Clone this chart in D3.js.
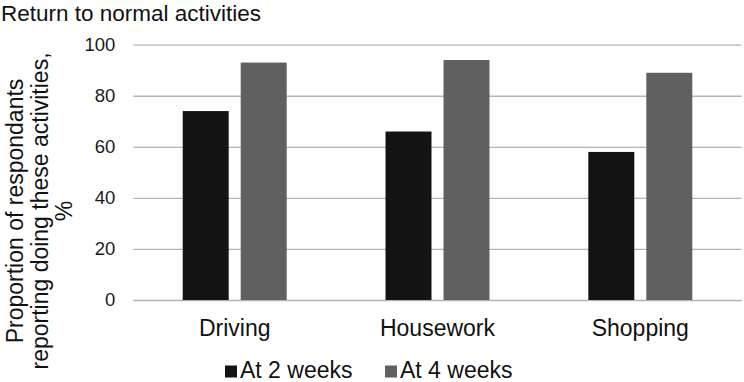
<!DOCTYPE html>
<html lang="en">
<head>
    <meta charset="UTF-8">
    <title>Return to normal activities</title>
    <script src="https://d3js.org/d3.v7.min.js"></script>
    <style>
        body {
            margin: 0;
            background-color: #fff;
        }
        svg {
            display: block;
            font-family: "Liberation Sans", Arial, sans-serif;
        }
    </style>
</head>
<body>
    <svg id="chart" width="744" height="382"></svg>
    <script>
        // Data
        const categories = ["Driving", "Housework", "Shopping"];
        const seriesNames = ["At 2 weeks", "At 4 weeks"];
        const week2 = [74, 66, 58];
        const week4 = [93, 94, 89];
        const yTicks = [0, 20, 40, 60, 80, 100];

        const colors = ["#131313", "#606060"];
        const seriesValues = [week2, week4];

        const svg = d3.select("#chart");
        const margin = { top: 44.7, right: 2.3, bottom: 82, left: 133.3 };
        const width = 744 - margin.left - margin.right;
        const height = 382 - margin.top - margin.bottom;

        const g = svg.append("g")
            .attr("transform", `translate(${margin.left},${margin.top})`);

        // Scales
        const x0 = d3.scaleBand()
            .domain(categories)
            .range([0, width])
            .padding(0);

        const x1 = d3.scaleBand()
            .domain(seriesNames)
            .range([0, x0.bandwidth()])
            .paddingInner(0.207)
            .paddingOuter(0.852);

        const y = d3.scaleLinear()
            .domain([0, 100])
            .range([height, 0]);

        // Gridlines + tick labels
        const yAxis = g.append("g")
            .call(d3.axisLeft(y).tickValues(yTicks).tickSize(-width).tickPadding(18));
        yAxis.select(".domain").remove();
        yAxis.selectAll(".tick line")
            .attr("stroke", "#b4b4b4")
            .attr("stroke-width", 1.3);
        yAxis.selectAll(".tick text")
            .attr("fill", "#1a1a1a")
            .style("font-size", "18.5px")
            .style("font-family", "'Liberation Sans', Arial, sans-serif");

        // Bars
        const rows = categories.map((c, i) => ({
            category: c,
            values: seriesNames.map((s, j) => ({ series: s, value: seriesValues[j][i], idx: j }))
        }));

        g.selectAll(".group")
            .data(rows)
            .enter()
            .append("g")
            .attr("transform", d => `translate(${x0(d.category)},0)`)
            .selectAll("rect")
            .data(d => d.values)
            .enter()
            .append("rect")
            .attr("x", d => x1(d.series))
            .attr("y", d => y(d.value))
            .attr("width", x1.bandwidth())
            .attr("height", d => height - y(d.value))
            .attr("fill", d => colors[d.idx]);

        // Category labels
        g.selectAll(".cat")
            .data(categories)
            .enter()
            .append("text")
            .attr("x", d => x0(d) + x0.bandwidth() / 2)
            .attr("y", 336.5 - margin.top)
            .attr("text-anchor", "middle")
            .attr("fill", "#111")
            .style("font-size", "23px")
            .text(d => d);

        // Title
        svg.append("text")
            .attr("x", 1)
            .attr("y", 20.5)
            .attr("fill", "#111")
            .style("font-size", "22.5px")
            .text("Return to normal activities");

        // Y axis title (three lines, rotated)
        const yTitle = ["Proportion of respondants", "reporting doing these activities,", "%"];
        svg.append("text")
            .attr("transform", "translate(0,211) rotate(-90)")
            .attr("text-anchor", "middle")
            .attr("fill", "#111")
            .style("font-size", "23px")
            .selectAll("tspan")
            .data(yTitle)
            .enter()
            .append("tspan")
            .attr("x", 0)
            .attr("y", (d, i) => 23 + i * 24.5)
            .text(d => d);

        // Legend
        const legendX = [225, 385];
        const legend = svg.selectAll(".legend")
            .data(seriesNames)
            .enter()
            .append("g")
            .attr("transform", (d, i) => `translate(${legendX[i]},365.5)`);
        legend.append("rect")
            .attr("width", 12)
            .attr("height", 12)
            .attr("fill", (d, i) => colors[i]);
        legend.append("text")
            .attr("x", 15)
            .attr("y", 12)
            .attr("fill", "#111")
            .style("font-size", "23px")
            .text(d => d);
    </script>
</body>
</html>
